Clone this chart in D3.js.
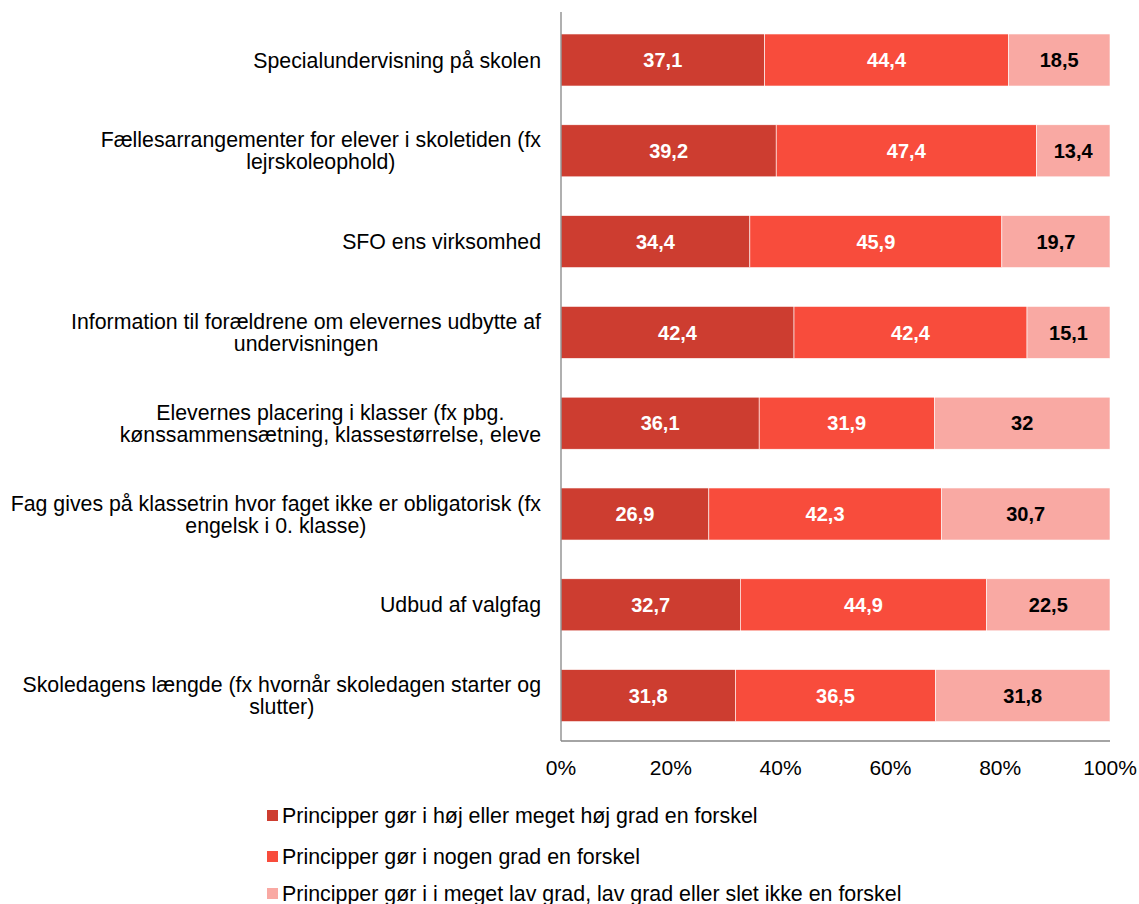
<!DOCTYPE html>
<html>
<head>
<meta charset="utf-8">
<script src="https://cdn.jsdelivr.net/npm/d3@7"></script>
<style>
  body { margin: 0; background: #fff; }
  svg text { font-family: "Liberation Sans", Arial, sans-serif; }
</style>
</head>
<body>
<div id="chart"></div>
<script>
// categories (line breaks as in the original)
const categories = [
  "Specialundervisning på skolen",
  "Fællesarrangementer for elever i skoletiden (fx\nlejrskoleophold)",
  "SFO ens virksomhed",
  "Information til forældrene om elevernes udbytte af\nundervisningen",
  "Elevernes placering i klasser (fx pbg.\nkønssammensætning, klassestørrelse, eleve",
  "Fag gives på klassetrin hvor faget ikke er obligatorisk (fx\nengelsk i 0. klasse)",
  "Udbud af valgfag",
  "Skoledagens længde (fx hvornår skoledagen starter og\nslutter)"
];
const seriesNames = [
  "Principper gør i høj eller meget høj grad en forskel",
  "Principper gør i nogen grad en forskel",
  "Principper gør i i meget lav grad, lav grad eller slet ikke en forskel"
];
const highValues = [37.1, 39.2, 34.4, 42.4, 36.1, 26.9, 32.7, 31.8];
const someValues = [44.4, 47.4, 45.9, 42.4, 31.9, 42.3, 44.9, 36.5];
const lowValues  = [18.5, 13.4, 19.7, 15.1, 32, 30.7, 22.5, 31.8];
const tickValues = [0, 0.2, 0.4, 0.6, 0.8, 1];
const colors = ["#cd3d30", "#f84c3c", "#f9a9a3"];
const labelColors = ["#fff", "#fff", "#000"];

const width = 1139, height = 904;
const svg = d3.select("#chart").append("svg")
  .attr("width", width).attr("height", height);

const x = d3.scaleLinear().domain([0, 1]).range([561, 1110]);
const y = d3.scaleBand().domain(d3.range(categories.length))
  .range([14.6, 741]).paddingInner(0.427).paddingOuter(0.2135);

// build stacked rows, normalised to 100 %
const rows = categories.map((c, i) => {
  const vals = [highValues[i], someValues[i], lowValues[i]];
  const total = d3.sum(vals);
  let acc = 0;
  return vals.map((v, k) => {
    const seg = { row: i, k, v, x0: acc / total, x1: (acc + v) / total };
    acc += v;
    return seg;
  });
});

const g = svg.append("g");
const segs = g.selectAll("g.row").data(rows).join("g").attr("class", "row")
  .selectAll("g.seg").data(d => d).join("g").attr("class", "seg");

segs.append("rect")
  .attr("x", d => x(d.x0))
  .attr("width", d => x(d.x1) - x(d.x0))
  .attr("y", d => y(d.row))
  .attr("height", y.bandwidth())
  .attr("fill", d => colors[d.k])
  .attr("stroke", "#fff").attr("stroke-width", 0.6);

segs.append("text")
  .attr("x", d => (x(d.x0) + x(d.x1)) / 2)
  .attr("y", d => y(d.row) + y.bandwidth() / 2)
  .attr("dy", "0.36em")
  .attr("text-anchor", "middle")
  .attr("font-size", 20).attr("font-weight", "bold")
  .attr("fill", d => labelColors[d.k])
  .text(d => String(d.v).replace(".", ","));

// axes lines
svg.append("line").attr("x1", 561).attr("x2", 561).attr("y1", 12).attr("y2", 741)
  .attr("stroke", "#868686").attr("stroke-width", 1.3);
svg.append("line").attr("x1", 561).attr("x2", 1110).attr("y1", 741).attr("y2", 741)
  .attr("stroke", "#868686").attr("stroke-width", 1.3);

// x tick labels
svg.selectAll("text.tick").data(tickValues).join("text").attr("class", "tick")
  .attr("x", d => x(d)).attr("y", 775)
  .attr("text-anchor", "middle").attr("font-size", 21).attr("fill", "#000")
  .text(d3.format(".0%"));

// category labels: centred block, right edge at 541
const catG = svg.selectAll("text.cat").data(categories).join("text").attr("class", "cat")
  .attr("font-size", 21.3).attr("fill", "#000").attr("text-anchor", "middle");
catG.each(function(c, i) {
  const el = d3.select(this);
  const lines = c.split("\n");
  const lh = 22;
  const cy = y(i) + y.bandwidth() / 2;
  const spans = lines.map((l, j) => el.append("tspan").text(l)
    .attr("y", cy + (j - (lines.length - 1) / 2) * lh).attr("dy", "0.36em"));
  const maxW = d3.max(spans, s => s.node().getComputedTextLength());
  spans.forEach(s => s.attr("x", 541 - maxW / 2));
});

// legend
const legendY = [815, 856, 893];
const leg = svg.selectAll("g.legend").data(seriesNames).join("g").attr("class", "legend")
  .attr("transform", (d, i) => `translate(267,${legendY[i]})`);
leg.append("rect").attr("x", 0).attr("y", -5).attr("width", 11).attr("height", 11)
  .attr("fill", (d, i) => colors[i]);
leg.append("text").attr("x", 15).attr("dy", "0.36em").attr("font-size", 21.4).attr("fill", "#000")
  .text(d => d);
</script>
</body>
</html>
